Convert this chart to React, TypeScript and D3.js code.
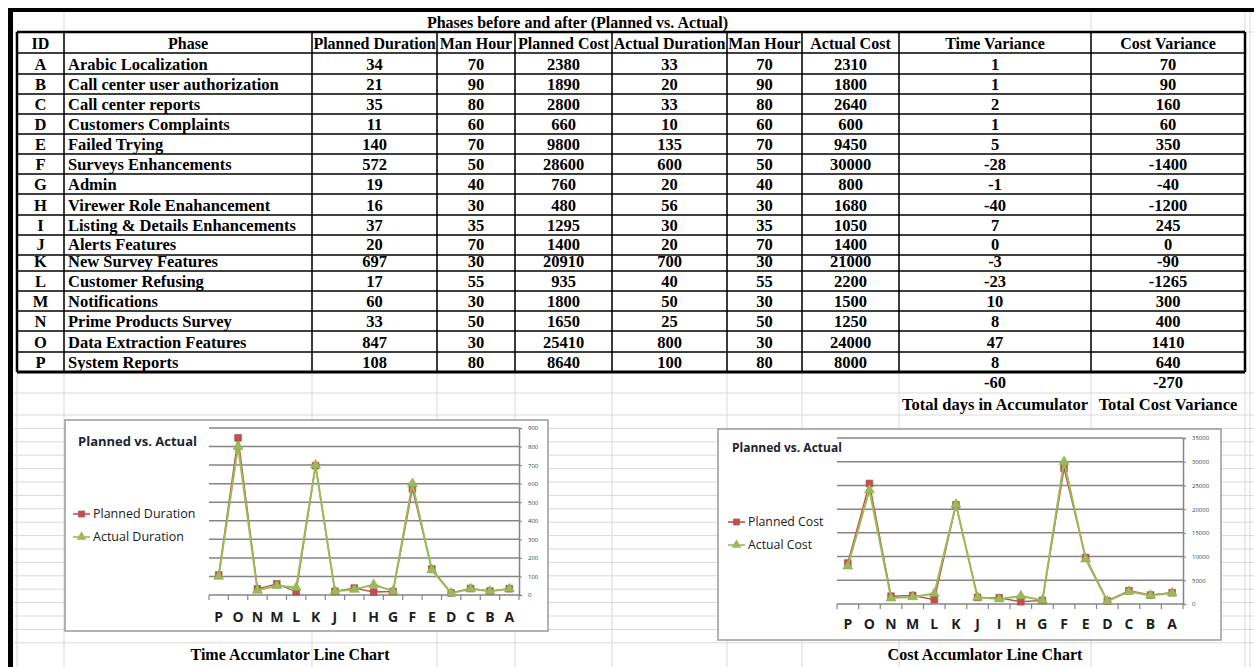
import React, { useEffect, useRef } from "react";
import * as d3 from "d3";

// table data (rows A..P)
const ids = ["A", "B", "C", "D", "E", "F", "G", "H", "I", "J", "K", "L", "M", "N", "O", "P"];
const phases = [
  "Arabic Localization",
  "Call center user authorization",
  "Call center reports",
  "Customers Complaints",
  "Failed Trying",
  "Surveys Enhancements",
  "Admin",
  "Virewer Role Enahancement",
  "Listing & Details Enhancements",
  "Alerts Features",
  "New Survey Features",
  "Customer Refusing",
  "Notifications",
  "Prime Products Survey",
  "Data Extraction Features",
  "System Reports",
];
const plannedDuration = [34, 21, 35, 11, 140, 572, 19, 16, 37, 20, 697, 17, 60, 33, 847, 108];
const plannedManHour = [70, 90, 80, 60, 70, 50, 40, 30, 35, 70, 30, 55, 30, 50, 30, 80];
const plannedCost = [2380, 1890, 2800, 660, 9800, 28600, 760, 480, 1295, 1400, 20910, 935, 1800, 1650, 25410, 8640];
const actualDuration = [33, 20, 33, 10, 135, 600, 20, 56, 30, 20, 700, 40, 50, 25, 800, 100];
const actualManHour = [70, 90, 80, 60, 70, 50, 40, 30, 35, 70, 30, 55, 30, 50, 30, 80];
const actualCost = [2310, 1800, 2640, 600, 9450, 30000, 800, 1680, 1050, 1400, 21000, 2200, 1500, 1250, 24000, 8000];
const timeVariance = [1, 1, 2, 1, 5, -28, -1, -40, 7, 0, -3, -23, 10, 8, 47, 8];
const costVariance = [70, 90, 160, 60, 350, -1400, -40, -1200, 245, 0, -90, -1265, 300, 400, 1410, 640];
const totals = ["-60", "-270"];
const totalLabels = ["Total days in Accumulator", "Total Cost Variance"];

const headers = [
  "ID", "Phase", "Planned Duration", "Man Hour", "Planned Cost",
  "Actual Duration", "Man Hour", "Actual Cost", "Time Variance", "Cost Variance",
];
const tableTitle = "Phases before and after (Planned vs. Actual)";

// layout
const W = 1254;
const H = 667;
const colEdges = [17, 64, 312, 437, 515, 612, 727, 802, 899, 1091, 1245];
const headerTop = 32;
const headerBottom = 53;
const rowHeights = [21, 20, 20, 20, 20, 20, 20, 21, 20, 20, 16, 20, 20, 20, 21, 20];
const serif = "'Liberation Serif', 'Times New Roman', serif";
const sans = "'Open Sans', 'Noto Sans', sans-serif";
const red = "#C0504D";
const green = "#9BBB59";

const rowEdges = [headerBottom];
rowHeights.forEach((h, i) => rowEdges.push(rowEdges[i] + h));
const tableBottom = rowEdges[rowEdges.length - 1];

function drawChart(svgG, cfg) {
  const g = d3.select(svgG);
  g.selectAll("*").remove();
  const cats = ids.slice().reverse();
  const planned = cfg.planned.slice().reverse();
  const actual = cfg.actual.slice().reverse();

  const x = d3.scaleBand().domain(cats).range([cfg.x0, cfg.x1]);
  const y = d3.scaleLinear().domain([0, cfg.max]).range([cfg.yb, cfg.yt]);
  const ticks = d3.range(0, cfg.max + 1, cfg.step);
  const cx = (id) => x(id) + x.bandwidth() / 2;

  g.append("rect")
    .attr("x", cfg.bx).attr("y", cfg.by).attr("width", cfg.bw).attr("height", cfg.bh)
    .attr("fill", "#fff").attr("stroke", "#9a9a9a").attr("stroke-width", 1.5);

  g.append("g").selectAll("line").data(ticks).join("line")
    .attr("x1", cfg.x0).attr("x2", cfg.x1)
    .attr("y1", (d) => y(d)).attr("y2", (d) => y(d))
    .attr("stroke", "#858585").attr("stroke-width", 1.5);

  const yAxis = g.append("g")
    .attr("transform", `translate(${cfg.x1},0)`)
    .call(d3.axisRight(y).tickValues(ticks).tickSize(3).tickPadding(6).tickFormat(d3.format("d")));
  yAxis.select(".domain").attr("stroke", "#858585").attr("stroke-width", 1.5);
  yAxis.selectAll(".tick line").attr("stroke", "#858585");
  yAxis.selectAll("text").attr("font-family", sans).attr("font-size", 6).attr("fill", "#404040");

  // x axis: tick marks at band edges
  const edges = cats.map((c) => x(c)).concat([cfg.x1]);
  g.append("g").selectAll("line").data(edges).join("line")
    .attr("x1", (d) => d).attr("x2", (d) => d)
    .attr("y1", cfg.yb).attr("y2", cfg.yb + 5)
    .attr("stroke", "#858585").attr("stroke-width", 1.2);
  g.append("g").selectAll("text").data(cats).join("text")
    .attr("x", cx).attr("y", cfg.labelY)
    .attr("text-anchor", "middle")
    .style("font-family", sans).style("font-weight", "700").style("font-size", "14px")
    .attr("fill", "#1e1e1e")
    .text((d) => d);

  const line = d3.line().x((d) => cx(d.id)).y((d) => y(d.v));
  const series = [
    { name: cfg.names[0], data: planned, color: red, shape: d3.symbolSquare, size: 46, width: 1.4 },
    { name: cfg.names[1], data: actual, color: green, shape: d3.symbolTriangle, size: 42, width: 2 },
  ];
  series.forEach((s) => {
    const pts = cats.map((id, i) => ({ id, v: s.data[i] }));
    g.append("path").datum(pts)
      .attr("fill", "none").attr("stroke", s.color).attr("stroke-width", s.width)
      .attr("d", line);
    g.append("g").selectAll("path").data(pts).join("path")
      .attr("transform", (d) => `translate(${cx(d.id)},${y(d.v)})`)
      .attr("d", d3.symbol(s.shape, s.size)())
      .attr("fill", s.color).attr("stroke", d3.color(s.color).darker(0.3)).attr("stroke-width", 0.6);
  });

  // title and legend
  g.append("text")
    .attr("x", cfg.titleX).attr("y", cfg.titleY)
    .style("font-family", sans).style("font-weight", "700").style("font-size", cfg.titleSize + "px")
    .attr("fill", "#1c2430").text("Planned vs. Actual");
  series.forEach((s, i) => {
    const ly = cfg.legendY + i * 23;
    g.append("line")
      .attr("x1", cfg.legendX).attr("x2", cfg.legendX + 17)
      .attr("y1", ly).attr("y2", ly)
      .attr("stroke", s.color).attr("stroke-width", 1.6);
    g.append("path")
      .attr("transform", `translate(${cfg.legendX + 8.5},${ly})`)
      .attr("d", d3.symbol(s.shape, s.size)())
      .attr("fill", s.color);
    g.append("text")
      .attr("x", cfg.legendX + 20).attr("y", ly + 4)
      .style("font-family", sans).style("font-size", cfg.legendSize + "px")
      .attr("fill", "#1a1a1a").text(s.name);
  });
}

export default function App() {
  const leftRef = useRef(null);
  const rightRef = useRef(null);

  useEffect(() => {
    drawChart(leftRef.current, {
      planned: plannedDuration, actual: actualDuration,
      names: ["Planned Duration", "Actual Duration"],
      bx: 65, by: 420, bw: 483, bh: 211,
      x0: 209, x1: 519, yt: 428, yb: 595, max: 900, step: 100,
      labelY: 622, titleX: 78, titleY: 446, titleSize: 13,
      legendX: 73, legendY: 514, legendSize: 12.5,
    });
    drawChart(rightRef.current, {
      planned: plannedCost, actual: actualCost,
      names: ["Planned Cost", "Actual Cost"],
      bx: 718, by: 429, bw: 503, bh: 211,
      x0: 837, x1: 1183, yt: 438, yb: 604, max: 35000, step: 5000,
      labelY: 629, titleX: 732, titleY: 452, titleSize: 12,
      legendX: 728, legendY: 522, legendSize: 12.3,
    });
  }, []);

  const columns = [
    ids, phases, plannedDuration, plannedManHour, plannedCost,
    actualDuration, actualManHour, actualCost, timeVariance, costVariance,
  ];

  // spreadsheet gridlines below the table
  const gridRows = [393, 415];
  for (let yy = 415 + 13.4; yy < 650; yy += 13.4) gridRows.push(yy);

  return (
    <svg width={W} height={H} style={{ position: "absolute", left: 0, top: 0, background: "#fff" }}>
      {/* sheet grid */}
      <g stroke="#d9d9d9" strokeWidth={1}>
        {colEdges.map((cx, i) => (
          <line key={"v" + i} x1={cx} x2={cx} y1={i === 1 || i >= 9 ? 12 : headerTop} y2={H} />
        ))}
        <line x1={1250} x2={1250} y1={12} y2={H} />
        {gridRows.map((gy, i) => (
          <line key={"h" + i} x1={13} x2={W} y1={gy} y2={gy} />
        ))}
        <line x1={13} x2={W} y1={headerTop} y2={headerTop} />
      </g>

      {/* outer frame */}
      <rect x={8} y={8} width={5} height={H - 8} fill="#000" />
      <rect x={8} y={8} width={W - 8} height={4} fill="#000" />

      {/* table title */}
      <text x={(colEdges[1] + colEdges[9]) / 2} y={28} textAnchor="middle"
        fontFamily={serif} fontWeight="bold" fontSize={16}>{tableTitle}</text>

      {/* table cells */}
      <g stroke="#000">
        {rowEdges.map((ry, i) => (
          <line key={"r" + i} x1={colEdges[0]} x2={colEdges[10]} y1={ry} y2={ry} strokeWidth={1.5} />
        ))}
        {colEdges.map((cx, i) => (
          <line key={"c" + i} x1={cx} x2={cx} y1={headerTop} y2={tableBottom}
            strokeWidth={i === 0 || i === 10 ? 2.5 : 1.5} />
        ))}
        <line x1={colEdges[0]} x2={colEdges[10]} y1={headerTop} y2={headerTop} strokeWidth={2.5} />
        <line x1={colEdges[0]} x2={colEdges[10]} y1={tableBottom} y2={tableBottom} strokeWidth={3} />
      </g>
      <g fontFamily={serif} fontWeight="bold" fontSize={16.5} fill="#000">
        {headers.map((h, i) => (
          <text key={"h" + i} x={(colEdges[i] + colEdges[i + 1]) / 2} y={headerBottom - 4}
            textAnchor="middle" fontSize={16}>{h}</text>
        ))}
        {ids.map((_, r) =>
          columns.map((col, c) => (
            <text key={r + "-" + c}
              x={c === 1 ? colEdges[1] + 4 : (colEdges[c] + colEdges[c + 1]) / 2}
              y={rowEdges[r + 1] - (r === 9 ? 5 : 4)}
              textAnchor={c === 1 ? "start" : "middle"}>{String(col[r])}</text>
          ))
        )}
        {totals.map((t, i) => (
          <text key={"t" + i} x={(colEdges[8 + i] + colEdges[9 + i]) / 2} y={388} textAnchor="middle">{t}</text>
        ))}
        {totalLabels.map((t, i) => (
          <text key={"tl" + i} x={(colEdges[8 + i] + colEdges[9 + i]) / 2} y={410} textAnchor="middle">{t}</text>
        ))}
      </g>

      <g ref={leftRef} />
      <g ref={rightRef} />

      <g fontFamily={serif} fontWeight="bold" fontSize={16} textAnchor="middle">
        <text x={290} y={660}>Time Accumlator Line Chart</text>
        <text x={985} y={660}>Cost Accumlator Line Chart</text>
      </g>
    </svg>
  );
}
